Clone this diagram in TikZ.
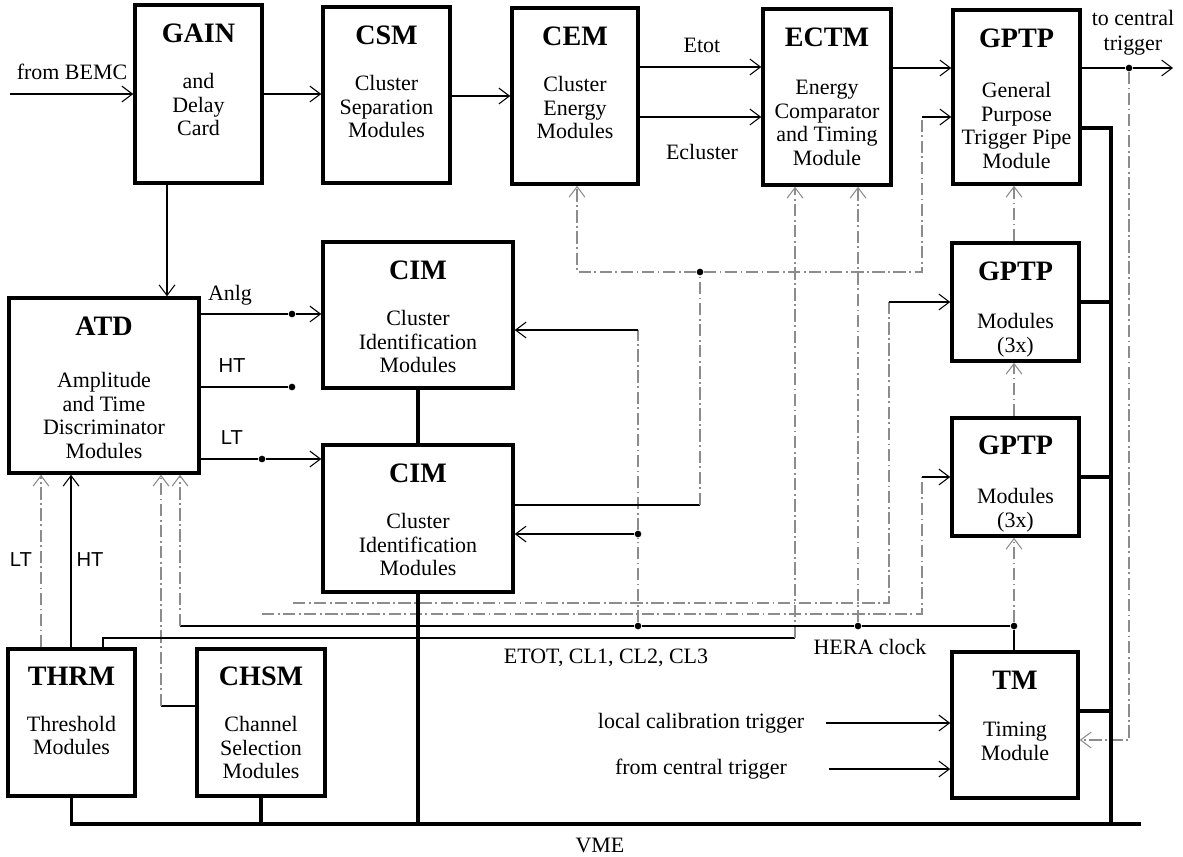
\documentclass[tikz,border=0pt]{standalone}
\usepackage{fontspec}
\setmainfont{Liberation Serif}
\setsansfont{Liberation Sans}
\usetikzlibrary{arrows.meta,positioning}
\tikzset{ %
  ,>={Straight Barb[length=6pt,width=9pt]}
  ,module/.style={draw, line width=2pt, inner sep=0}
  ,ttl/.style={inner sep=0, font=\bfseries\fontsize{16}{19}\selectfont}
  ,txt/.style={inner sep=0, align=center, font=\fontsize{12.5}{13.4}\selectfont}
  ,lbl/.style={inner sep=0, align=center, font=\fontsize{12.5}{14}\selectfont}
  ,slbl/.style={inner sep=0, font=\sffamily\fontsize{11.5}{13}\selectfont}
  ,sig/.style={line width=0.6pt}
  ,faint/.style={line width=0.6pt, draw=black!45, dash pattern=on 7pt off 2pt on 1pt off 2pt}
  ,bus/.style={line width=2pt}
  ,jn/.style={circle, fill, inner sep=0, minimum size=3.8pt}
}
\begin{document}
\begin{tikzpicture}[x=0.02cm, y=-0.02cm]
\useasboundingbox (0,0) rectangle (1183,856);

% top row
\node[module, minimum width=2.54cm, minimum height=3.56cm] (gain) at (198.5,94) {};
\node[ttl] (gainT) at ([yshift=-0.6cm]gain.north) {GAIN};
\node[txt, below=0.6cm of gainT] (gainB) {and\\Delay\\Card};

\node[module, minimum width=2.54cm, minimum height=3.52cm] (csm) at (386.5,95) {};
\node[ttl] (csmT) at ([yshift=-0.6cm]csm.north) {CSM};
\node[txt, below=0.6cm of csmT] (csmB) {Cluster\\Separation\\Modules};

\node[module, minimum width=2.52cm, minimum height=3.52cm] (cem) at (575,96) {};
\node[ttl] (cemT) at ([yshift=-0.6cm]cem.north) {CEM};
\node[txt, below=0.6cm of cemT] (cemB) {Cluster\\Energy\\Modules};

\node[module, minimum width=2.56cm, minimum height=3.52cm] (ectm) at (827,97) {};
\node[ttl] (ectmT) at ([yshift=-0.6cm]ectm.north) {ECTM};
\node[txt, below=0.66cm of ectmT] (ectmB) {Energy\\Comparator\\and Timing\\Module};

\node[module, minimum width=2.54cm, minimum height=3.48cm] (gptpA) at (1016.5,97) {};
\node[ttl] (gptpAT) at ([yshift=-0.6cm]gptpA.north) {GPTP};
\node[txt, below=0.68cm of gptpAT] (gptpAB) {General\\Purpose\\Trigger Pipe\\Module};

% middle
\node[module, minimum width=3.8cm, minimum height=3.5cm] (atd) at (104,385.5) {};
\node[ttl] (atdT) at ([yshift=-0.6cm]atd.north) {ATD};
\node[txt, below=0.72cm of atdT] (atdB) {Amplitude\\and Time\\Discriminator\\Modules};

\node[module, minimum width=3.8cm, minimum height=2.92cm] (cimA) at (418,315) {};
\node[ttl] (cimAT) at ([yshift=-0.6cm]cimA.north) {CIM};
\node[txt, below=0.6cm of cimAT] (cimAB) {Cluster\\Identification\\Modules};

\node[module, minimum width=3.8cm, minimum height=2.94cm] (cimB) at (418,518.5) {};
\node[ttl] (cimBT) at ([yshift=-0.6cm]cimB.north) {CIM};
\node[txt, below=0.6cm of cimBT] (cimBB) {Cluster\\Identification\\Modules};

\node[module, minimum width=2.54cm, minimum height=2.36cm] (gptpB) at (1015.5,302) {};
\node[ttl] (gptpBT) at ([yshift=-0.6cm]gptpB.north) {GPTP};
\node[txt, below=0.64cm of gptpBT] (gptpBB) {Modules\\(3x)};

\node[module, minimum width=2.54cm, minimum height=2.36cm] (gptpC) at (1015.5,477) {};
\node[ttl] (gptpCT) at ([yshift=-0.58cm]gptpC.north) {GPTP};
\node[txt, below=0.66cm of gptpCT] (gptpCB) {Modules\\(3x)};

% bottom row
\node[module, minimum width=2.54cm, minimum height=2.94cm] (thrm) at (71.5,722.5) {};
\node[ttl] (thrmT) at ([yshift=-0.58cm]thrm.north) {THRM};
\node[txt, below=0.6cm of thrmT] (thrmB) {Threshold\\Modules};

\node[module, minimum width=2.56cm, minimum height=2.94cm] (chsm) at (261,722.5) {};
\node[ttl] (chsmT) at ([yshift=-0.58cm]chsm.north) {CHSM};
\node[txt, below=0.6cm of chsmT] (chsmB) {Channel\\Selection\\Modules};

\node[module, minimum width=2.52cm, minimum height=2.92cm] (tm) at (1015,725) {};
\node[ttl] (tmT) at ([yshift=-0.6cm]tm.north) {TM};
\node[txt, below=0.64cm of tmT] (tmB) {Timing\\Module};

% labels
\node[lbl] (bemcL) at (72,72) {from BEMC};
\node[lbl] (etotL) at (702,45) {Etot};
\node[lbl] (eclL) at (702,152) {Ecluster};
\node[lbl] (outL) at (1133,33) {to central\\trigger};
\node[lbl] (anlgL) at (230,295) {Anlg};
\node[slbl] (htL) at (232,366) {HT};
\node[slbl] (ltL) at (232,438) {LT};
\node[slbl] (ltB) at (21,560) {LT};
\node[slbl] (htB) at (90,560) {HT};
\node[lbl] (busL) at (606,658) {ETOT, CL1, CL2, CL3};
\node[lbl] (heraL) at (870,647) {HERA clock};
\node[lbl] (lcL) at (701,723) {local calibration trigger};
\node[lbl] (fcL) at (701,769) {from central trigger};
\node[lbl] (vmeL) at (600,845) {VME};

% junctions and corners
\node[jn] (dOut) at (1129,68) {};
\node[jn] (dAnlg) at (292,314) {};
\node[jn] (dHT) at (292,387) {};
\node[jn] (dLT) at (262,459) {};
\node[jn] (dCim) at (700,272) {};
\node[jn] (hTM) at (1014,626) {};
\node[jn] (hEC) at (858,626) {};
\node[jn] (hCI) at (638,626) {};
\node[jn] (hCB) at (638,534) {};
\coordinate (bemc) at (10,94);
\coordinate (out) at (1173,68);
\coordinate (busR) at (1111,824);
\coordinate (vmeE) at (1141,824);
\coordinate (eA) at (103,638);
\coordinate (eB) at (795,638);
\coordinate (cA) at (161,706);
\coordinate (hAT) at (180,626);
\coordinate (cO) at (700,505);
\coordinate (cEc) at (577,272);
\coordinate (gAc) at (922,272);
\coordinate (gA) at (922,117);
\coordinate (pB) at (293,603);
\coordinate (pBc) at (889,603);
\coordinate (pBt) at (889,302);
\coordinate (pC) at (262,614);
\coordinate (pCc) at (922,614);
\coordinate (pCt) at (922,477);
\coordinate (lc) at (826,723);
\coordinate (fc) at (829,769);
\coordinate (fbk) at (1129,740);

% signal path
\draw[sig,->] (bemc) -- (gain.west);
\draw[sig,->] (gain.east) -- (gain.east -| csm.west);
\draw[sig,->] (csm.east |- cem.west) -- (cem.west);
\draw[sig,->] (cem.east |- 0,67) -- (ectm.west |- 0,67);
\draw[sig,->] (cem.east |- 0,117) -- (ectm.west |- 0,117);
\draw[sig,->] (ectm.east |- 0,68) -- (gptpA.west |- 0,68);
\draw[sig,->] (gptpA.east |- dOut) -- (dOut) -- (out);
\draw[sig,->] (gain.south -| 167,0) -- (atd.north -| 167,0);
\draw[sig,->] (atd.east |- dAnlg) -- (dAnlg) -- (cimA.west |- dAnlg);
\draw[sig] (atd.east |- dHT) -- (dHT);
\draw[sig,->] (atd.east |- dLT) -- (dLT) -- (cimB.west |- dLT);

% thresholds and channel selection
\draw[faint,->] (thrm.north -| 41,0) -- (atd.south -| 41,0);
\draw[sig,->] (thrm.north -| 71,0) -- (atd.south -| 71,0);
\draw[sig] (chsm.west |- cA) -- (cA);
\draw[faint,->] (cA) -- (atd.south -| cA);
\draw[sig] (thrm.north -| eA) -- (eA) -- (eB);
\draw[faint,->] (eB) -- (ectm.south -| eB);

% HERA clock
\draw[sig] (tm.north -| hTM) -- (hTM) -- (hEC) -- (hCI) -- (hAT);
\draw[faint,->] (hAT) -- (atd.south -| hAT);
\draw[faint,->] (hTM) -- (gptpC.south -| hTM);
\draw[faint,->] (gptpC.north -| hTM) -- (gptpB.south -| hTM);
\draw[faint,->] (gptpB.north -| hTM) -- (gptpA.south -| hTM);
\draw[faint,->] (hEC) -- (ectm.south -| hEC);
\draw[faint] (hCI) -- (hCB);
\draw[sig,->] (hCB) -- (cimB.east |- hCB);
\draw[faint] (hCB) -- (hCB |- 0,330);
\draw[sig,->] (hCB |- 0,330) -- (cimA.east |- 0,330);

% cluster results
\draw[sig] (cimB.east |- cO) -- (cO);
\draw[faint] (cO) -- (dCim);
\draw[faint,->] (dCim) -- (cEc) -- (cem.south -| cEc);
\draw[faint] (dCim) -- (gAc) -- (gA);
\draw[sig,->] (gA) -- (gptpA.west |- gA);
\draw[faint] (pB) -- (pBc) -- (pBt);
\draw[sig,->] (pBt) -- (gptpB.west |- pBt);
\draw[faint] (pC) -- (pCc) -- (pCt);
\draw[sig,->] (pCt) -- (gptpC.west |- pCt);

% timing module
\draw[sig,->] (lc) -- (tm.west |- lc);
\draw[sig,->] (fc) -- (tm.west |- fc);
\draw[faint,->] (dOut) -- (fbk) -- (tm.east |- fbk);

% VME
\draw[bus] (thrm.south) -- (thrm.south |- vmeE) -- (vmeE);
\draw[bus] (chsm.south) -- (chsm.south |- vmeE);
\draw[bus] (cimA.south) -- (cimB.north);
\draw[bus] (cimB.south) -- (cimB.south |- vmeE);
\draw[bus] (gptpA.east |- 0,128) -- (busR |- 0,128) -- (busR);
\draw[bus] (gptpB.east) -- (gptpB.east -| busR);
\draw[bus] (gptpC.east) -- (gptpC.east -| busR);
\draw[bus] (tm.east |- 0,711) -- (busR |- 0,711);
\end{tikzpicture}
\end{document}
